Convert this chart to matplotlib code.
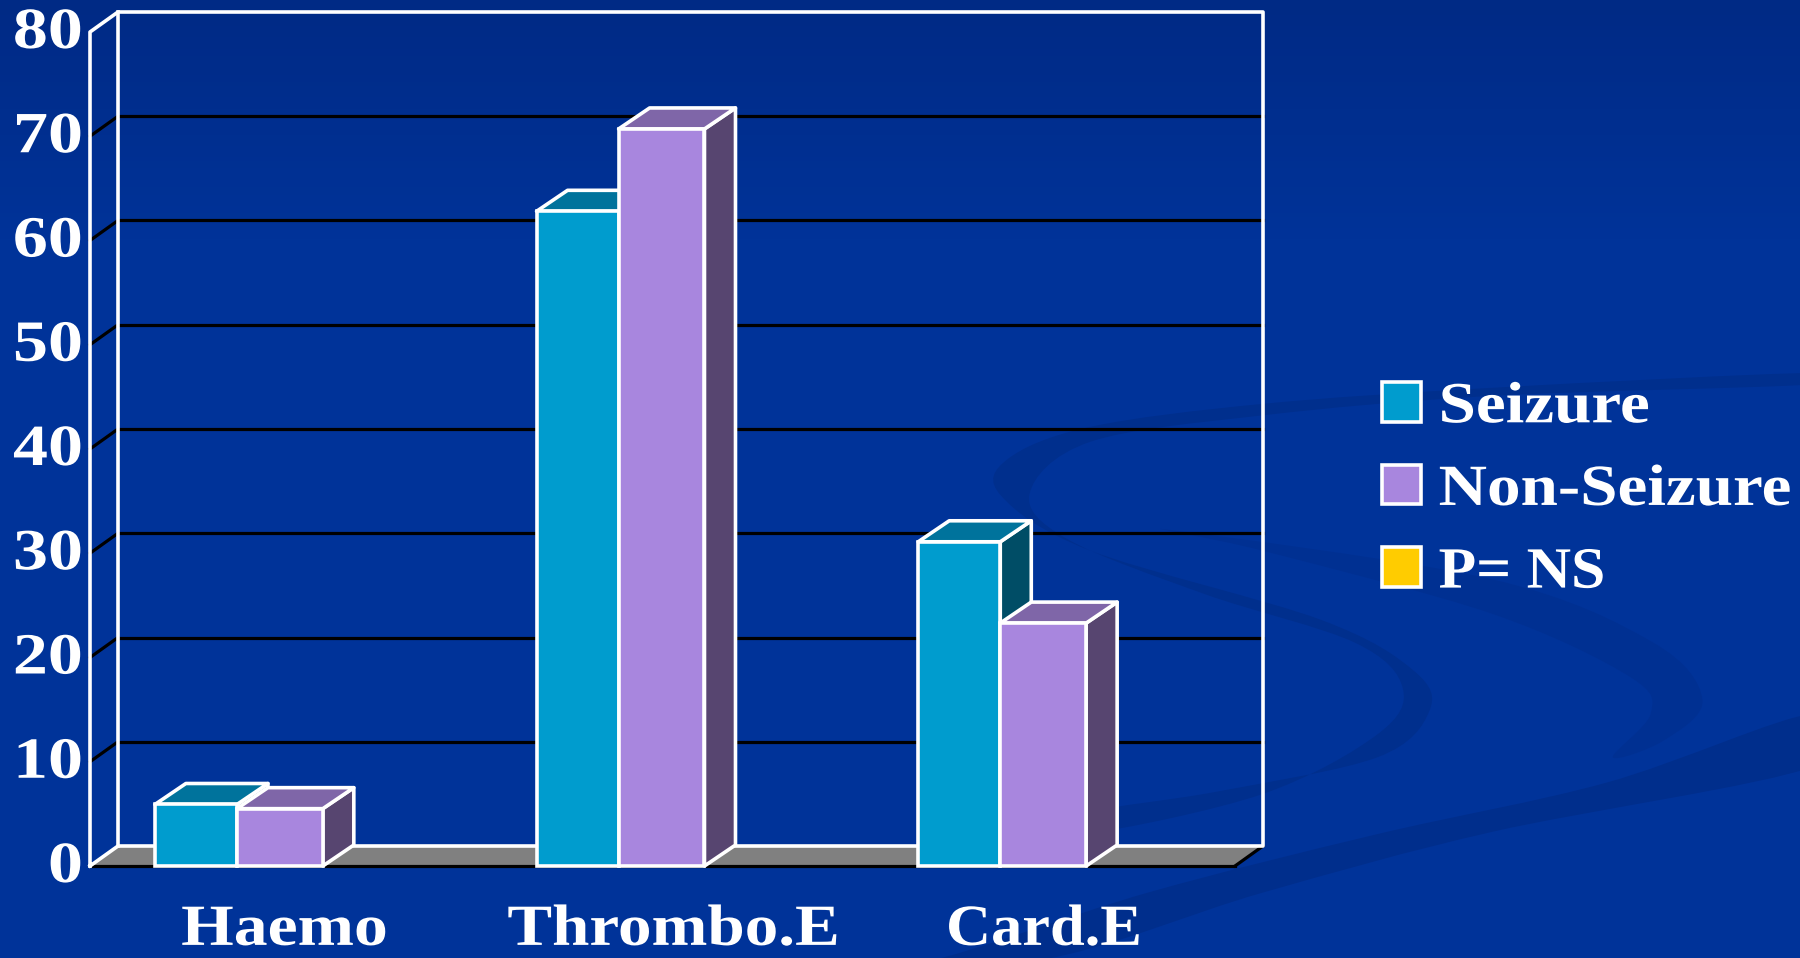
import numpy as np
import matplotlib
matplotlib.use("Agg")
import matplotlib.pyplot as plt
from matplotlib.patches import Patch, Polygon, PathPatch
from matplotlib.path import Path
from matplotlib.patheffects import AbstractPathEffect
from matplotlib.transforms import Affine2D

categories = ["Haemo", "Thrombo.E", "Card.E"]
seizure = [5.9, 62.8, 31.1]
non_seizure = [5.5, 70.7, 23.3]
legend_labels = ["Seizure", "Non-Seizure", "P= NS"]
y_ticks = [0, 10, 20, 30, 40, 50, 60, 70, 80]

W, H = 1800, 958
BG = "#003399"
SEIZ = ("#009CCE", "#00739C", "#004D66")
NONS = ("#A886DE", "#7F66A8", "#574570")
YEL = "#FFCC00"
FONT = "Liberation Serif"
FS = 42
LW = 2.6
GRID_LW = 2.3
plt.rcParams["font.family"] = FONT
plt.rcParams["font.weight"] = "bold"

fig = plt.figure(figsize=(18, 9.58), dpi=100, facecolor=BG)


class Stretch(AbstractPathEffect):
    """Widen the glyphs of a real text about its anchor (the reference type is an extended serif)."""

    def __init__(self, text, sx):
        super().__init__()
        self.text, self.sx = text, sx

    def draw_path(self, renderer, gc, tpath, affine, rgbFace=None):
        bb = self.text.get_window_extent(fig.canvas.get_renderer())
        a = {"left": bb.x0, "right": bb.x1}.get(self.text.get_ha(), (bb.x0 + bb.x1) / 2)
        tr = affine + Affine2D().translate(-a, 0).scale(self.sx, 1).translate(a, 0)
        renderer.draw_path(gc, tpath, tr, rgbFace)


# ---- slide background ----
bg = fig.add_axes([0, 0, 1, 1], zorder=0)
bg.set_xlim(0, 1568)
bg.set_ylim(835, 0)
bg.axis("off")
c0 = np.array([0x00, 0x2A, 0x85]) / 255
c1 = np.array([0x00, 0x33, 0x99]) / 255
t = np.clip(np.linspace(0, 1, 256) / 0.25, 0, 1)[:, None, None]
bg.imshow(c0[None, None, :] * (1 - t) + c1[None, None, :] * t,
          extent=[0, 1568, 835, 0], aspect="auto", zorder=0)


def smooth(pts):
    p = np.array(pts + [pts[0]], float)
    p = np.vstack([p[-2], p, p[1]])
    verts = [p[1]]
    codes = [Path.MOVETO]
    for i in range(1, len(p) - 2):
        verts += [p[i] + (p[i + 1] - p[i - 1]) / 6,
                  p[i + 1] - (p[i + 2] - p[i]) / 6, p[i + 1]]
        codes += [Path.CURVE4] * 3
    return Path(verts, codes)


swooshes = [
    ([(1580, 622), (1400, 682), (1200, 727), (1000, 778), (800, 840), (680, 848),
      (900, 838), (1100, 778), (1300, 725), (1580, 668)], "#002E8C"),
    ([(1580, 325), (1300, 338), (1100, 352), (950, 372), (878, 400), (872, 432), (950, 480),
      (1150, 540), (1232, 585), (1245, 620), (1200, 660), (1060, 690), (950, 708),
      (950, 726), (1100, 692), (1200, 640), (1222, 600), (1180, 560), (1050, 518),
      (930, 470), (897, 430), (950, 385), (1100, 362), (1300, 345), (1580, 335)], "#002F8D"),
    ([(1020, 462), (1300, 505), (1440, 560), (1483, 610), (1450, 645), (1405, 660),
      (1438, 622), (1420, 590), (1300, 535), (1100, 480)], "#003092"),
]
for pts, col in swooshes:
    bg.add_patch(PathPatch(smooth(pts), fc=col, ec="none", zorder=1))

# ---- chart ----
L, R, T, B = 90, 1235, 32, 866
ax = fig.add_axes([L / W, 1 - B / H, (R - L) / W, (B - T) / H], zorder=2)
ax.patch.set_alpha(0)
ax.set_xlim(-0.5, 2.5)
ax.set_ylim(0, 80)
for s in ax.spines.values():
    s.set_visible(False)

PX = (R - L) / 3
PY = (B - T) / 80
DX, DY = 28 / PX, 20 / PY
BDX, BDY = 31 / PX, 21 / PY
x0, x1 = ax.get_xlim()
top = y_ticks[-1]

# floor
ax.add_patch(Polygon([(x0, 0), (x1, 0), (x1 + DX, DY), (x0 + DX, DY)],
                     fc="#808080", ec="none", clip_on=False, zorder=1))
ax.plot([x0, x1], [0, 0], color="black", lw=GRID_LW, zorder=2, clip_on=False)
ax.plot([x1, x1 + DX], [0, DY], color="black", lw=GRID_LW, zorder=2, clip_on=False)

# gridlines on back and side wall
for v in y_ticks[1:-1]:
    ax.plot([x0 + DX, x1 + DX], [v + DY, v + DY], color="black", lw=GRID_LW, zorder=2, clip_on=False)
    ax.plot([x0, x0 + DX], [v, v + DY], color="black", lw=GRID_LW, zorder=2, clip_on=False)

# walls
ax.plot([x0, x0, x0 + DX, x1 + DX, x1 + DX, x0 + DX, x0],
        [0, top, top + DY, top + DY, DY, DY, 0], color="white", lw=LW, zorder=3, clip_on=False)
ax.plot([x0 + DX, x0 + DX], [DY, top + DY], color="white", lw=LW, zorder=3, clip_on=False)

# bars
BW_S, BW_N = 0.215, 0.225
SHIFT = -0.115
xs = np.arange(len(categories)) + SHIFT
z = 4
for i in range(len(categories)):
    for xa, w, val, cols in ((xs[i] - BW_S, BW_S, seizure[i], SEIZ),
                             (xs[i], BW_N, non_seizure[i], NONS)):
        xb = xa + w
        ax.add_patch(Polygon([(xb, 0), (xb + BDX, BDY), (xb + BDX, val + BDY), (xb, val)],
                             fc=cols[2], ec="white", lw=LW, joinstyle="round", clip_on=False, zorder=z))
        ax.add_patch(Polygon([(xa, val), (xb, val), (xb + BDX, val + BDY), (xa + BDX, val + BDY)],
                             fc=cols[1], ec="white", lw=LW, joinstyle="round", clip_on=False, zorder=z))
        ax.bar(xa, val, w, align="edge", color=cols[0], edgecolor="white", lw=LW,
               clip_on=False, zorder=z)
        z += 1

# axes text
ax.set_yticks(y_ticks)
ax.set_yticklabels([str(v) for v in y_ticks], fontsize=FS, color="white", fontweight="bold", va="center")
ax.set_xticks([0.01, 1.03, 2.0])
ax.set_xticklabels(categories, fontsize=FS, color="white", fontweight="bold")
ax.tick_params(axis="y", length=0, pad=5)
ax.tick_params(axis="x", length=0, pad=28)
for lab in ax.get_yticklabels():
    lab.set_transform(lab.get_transform() + Affine2D().translate(0, -2))
    lab.set_path_effects([Stretch(lab, 1.2)])
for lab, sx in zip(ax.get_xticklabels(), [1.16, 1.15, 1.07]):
    lab.set_path_effects([Stretch(lab, sx)])

# legend
handles = [Patch(fc=SEIZ[0], ec="white", lw=LW),
           Patch(fc=NONS[0], ec="white", lw=LW),
           Patch(fc=YEL, ec="white", lw=LW)]
leg = fig.legend(handles, legend_labels, loc="upper left",
                 bbox_to_anchor=(1382 / W, 1 - 382 / H), frameon=False, fontsize=FS,
                 handlelength=0.67, handleheight=0.67, handletextpad=0.3,
                 labelspacing=0.52, borderpad=0, borderaxespad=0, labelcolor="white")
leg.set_zorder(3)
for lab, sx in zip(leg.get_texts(), [1.15, 1.15, 1.055]):
    lab.set_path_effects([Stretch(lab, sx)])

fig.savefig("out.png", dpi=100, facecolor=BG)
